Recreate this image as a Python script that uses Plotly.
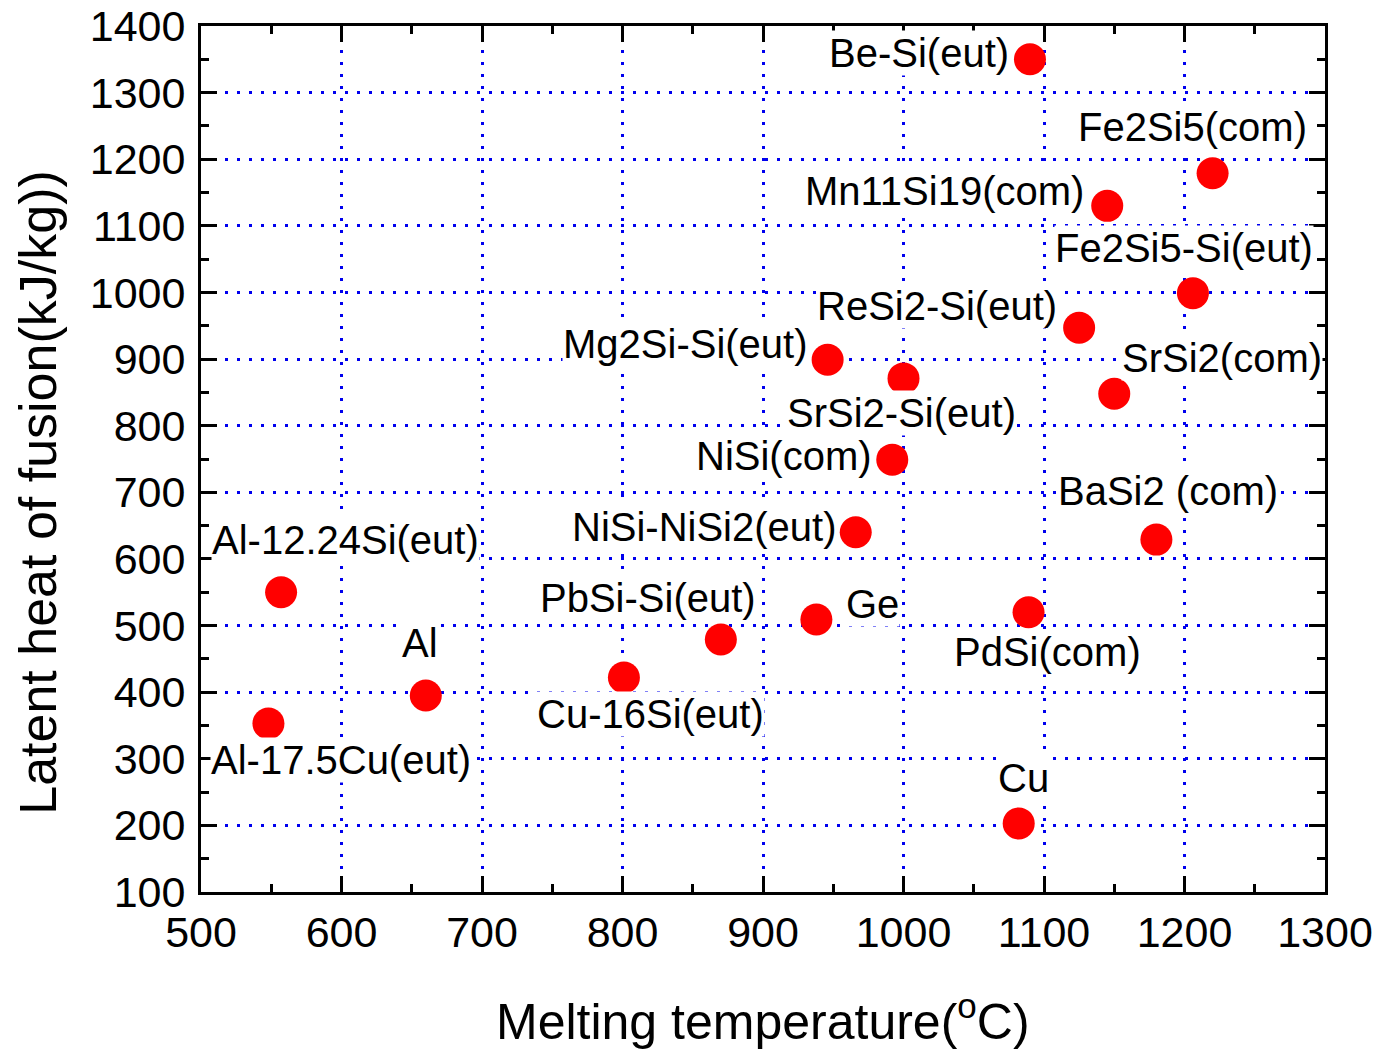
import plotly.graph_objects as go

# ---- data ----
materials = [
    "Be-Si(eut)", "Mn11Si19(com)", "Fe2Si5(com)", "Fe2Si5-Si(eut)", "ReSi2-Si(eut)",
    "Mg2Si-Si(eut)", "SrSi2-Si(eut)", "NiSi(com)", "NiSi-NiSi2(eut)", "SrSi2(com)",
    "BaSi2 (com)", "Al-12.24Si(eut)", "Al", "Al-17.5Cu(eut)", "PbSi-Si(eut)",
    "Cu-16Si(eut)", "Ge", "PdSi(com)", "Cu",
]
melting_temp = [1090, 1145, 1220, 1206, 1125, 946, 1000, 992, 966, 1150,
                1180, 557, 660, 548, 870, 801, 938, 1089, 1082]
latent_heat = [1350, 1130, 1179, 999, 947, 899, 871, 749, 640, 848,
               629, 550, 395, 353, 479, 422, 509, 520, 203]

x_ticks = [500, 600, 700, 800, 900, 1000, 1100, 1200, 1300]
y_ticks = [100, 200, 300, 400, 500, 600, 700, 800, 900, 1000, 1100, 1200, 1300, 1400]

# ---- label placement (pixel offsets relative to each point) ----
label_place = {
    "Be-Si(eut)": ("right", -20, 6),
    "Mn11Si19(com)": ("right", -22, 15),
    "Fe2Si5(com)": ("right", 95, 46),
    "Fe2Si5-Si(eut)": ("right", 121, 45),
    "ReSi2-Si(eut)": ("right", -21, 22),
    "Mg2Si-Si(eut)": ("right", -19, 16),
    "SrSi2-Si(eut)": ("center", -2, -35),
    "NiSi(com)": ("right", -19, 4),
    "NiSi-NiSi2(eut)": ("right", -18, 5),
    "SrSi2(com)": ("right", 209, 36),
    "BaSi2 (com)": ("center", 12, 49),
    "Al-12.24Si(eut)": ("left", -70, 52),
    "Al": ("center", -6, 52),
    "Al-17.5Cu(eut)": ("left", -58, -37),
    "PbSi-Si(eut)": ("center", -73, 42),
    "Cu-16Si(eut)": ("center", 27, -36),
    "Ge": ("left", 29, 16),
    "PdSi(com)": ("center", 19, -40),
    "Cu": ("center", 5, 45),
}

FONT = "Liberation Sans, Arial, sans-serif"

fig = go.Figure()
fig.add_trace(go.Scatter(
    x=melting_temp, y=latent_heat, mode="markers",
    marker=dict(color="#ff0000", size=32, line=dict(width=0)),
    showlegend=False, cliponaxis=False,
))

for name, xv, yv in zip(materials, melting_temp, latent_heat):
    anchor, dx, dy = label_place[name]
    fig.add_annotation(
        x=xv, y=yv, xref="x", yref="y", text=name, showarrow=False,
        xanchor=anchor, yanchor="middle", xshift=dx, yshift=dy,
        font=dict(family=FONT, size=40, color="black"),
        bgcolor="white", borderpad=0,
    )

# axis titles
fig.add_annotation(
    x=0.5, y=-0.146, xref="paper", yref="paper", showarrow=False,
    text="Melting temperature(<sup>o</sup>C)", xanchor="center", yanchor="middle",
    font=dict(family=FONT, size=50, color="black"),
)
fig.add_annotation(
    x=-0.145, y=0.461, xref="paper", yref="paper", showarrow=False,
    text="Latent heat of fusion(kJ/kg))", textangle=-90,
    xanchor="center", yanchor="middle",
    font=dict(family=FONT, size=52, color="black"),
)

axis_common = dict(
    showline=True, linecolor="black", linewidth=3, mirror="allticks",
    ticks="inside", ticklen=16, tickwidth=3, tickcolor="black",
    showgrid=True, gridcolor="#0000ee", gridwidth=2.5, griddash="3px,9px",
    zeroline=False, automargin=False,
    tickfont=dict(family=FONT, size=43, color="black"),
    minor=dict(ticks="inside", ticklen=8, tickwidth=3, tickcolor="black",
               dtick=50, showgrid=False),
)

fig.update_xaxes(range=[500, 1300], tickvals=x_ticks, ticklabelstandoff=0, **axis_common)
fig.update_yaxes(range=[100, 1400], tickvals=y_ticks, ticklabelstandoff=4, **axis_common)

fig.update_layout(
    width=1377, height=1049,
    margin=dict(l=201, r=52, t=26, b=157, pad=0, autoexpand=False),
    plot_bgcolor="white", paper_bgcolor="white",
    font=dict(family=FONT, color="black"),
)

fig.write_html(
    "out.html",
    config={"displayModeBar": False},
    post_script="document.body.style.margin='0';document.body.style.overflow='hidden';",
)
